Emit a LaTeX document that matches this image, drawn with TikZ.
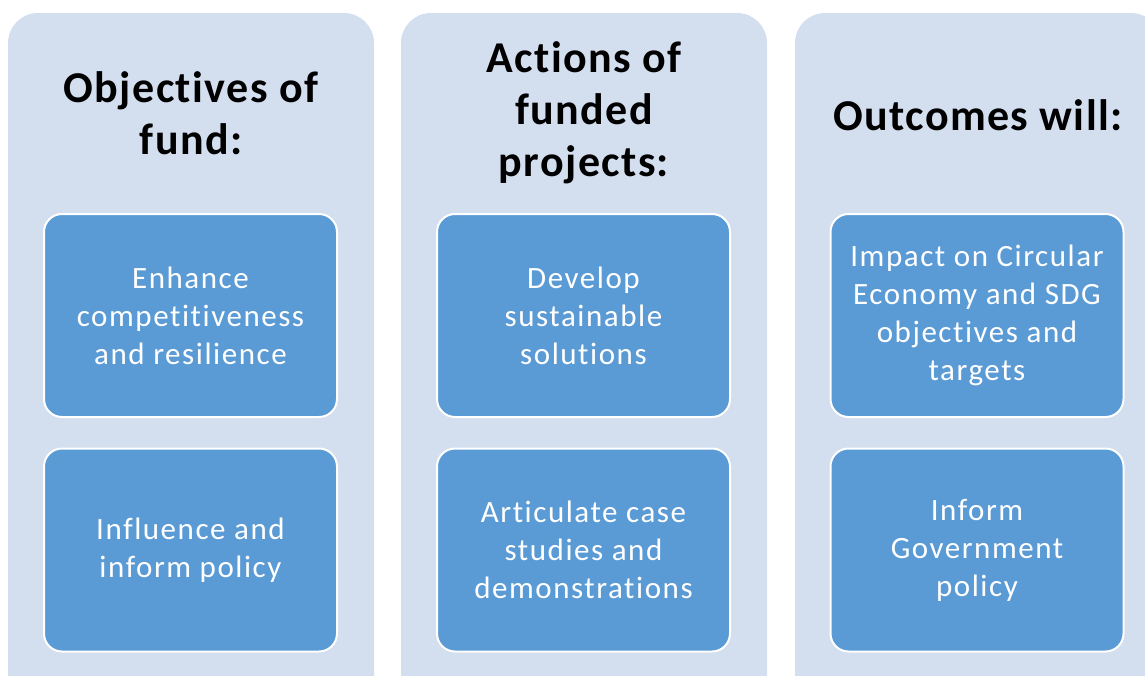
\documentclass[tikz,border=0pt]{standalone}
\usepackage{fontspec}
\setmainfont{Carlito}[Ligatures=NoCommon]
\newfontfamily\itemfont{Carlito}[Ligatures=NoCommon,LetterSpace=5]
\newfontfamily\headfont{Carlito}[Ligatures=NoCommon,LetterSpace=3.2]
\definecolor{outerbg}{RGB}{211,222,239}
\definecolor{innerbg}{RGB}{91,155,213}
\begin{document}
\begin{tikzpicture}[x=1pt,y=-1pt,
  colbox/.style={fill=outerbg, draw=none, rounded corners=30pt, inner sep=0pt, minimum width=366pt, minimum height=700pt},
  itembox/.style={draw=white, line width=2pt, fill=innerbg, rounded corners=18pt, minimum width=293pt, minimum height=203pt, text=white, font=\itemfont\fontsize{31}{38}\selectfont, align=center, inner sep=0pt},
  headtext/.style={font=\headfont\fontsize{44}{52}\selectfont\bfseries, align=center, inner sep=0pt}]
\useasboundingbox (0,0) rectangle (1145,675);
\clip (0,0) rectangle (1145,675);
\node[colbox] (c1) at (191,363) {};
\node[colbox] (c2) at (584,363) {};
\node[colbox] (c3) at (978,363) {};
\node[headtext] (h1) at (191,113) {Objectives of\\fund:};
\node[headtext] (h2) at (584,113) {Actions of\\funded\\projects:};
\node[headtext] (h3) at (978,115) {Outcomes will:};
\node[itembox] (b11) at (190.5,315.5) {Enhance\\competitiveness\\and resilience};
\node[itembox] (b12) at (190.5,550) {Influence and\\inform policy};
\node[itembox] (b21) at (583.5,315.5) {Develop\\sustainable\\solutions};
\node[itembox] (b22) at (583.5,550) {Articulate case\\studies and\\demonstrations};
\node[itembox] (b31) at (977,315.5) {Impact on Circular\\Economy and SDG\\objectives and\\targets};
\node[itembox] (b32) at (977,550) {Inform\\Government\\policy};
\end{tikzpicture}
\end{document}
